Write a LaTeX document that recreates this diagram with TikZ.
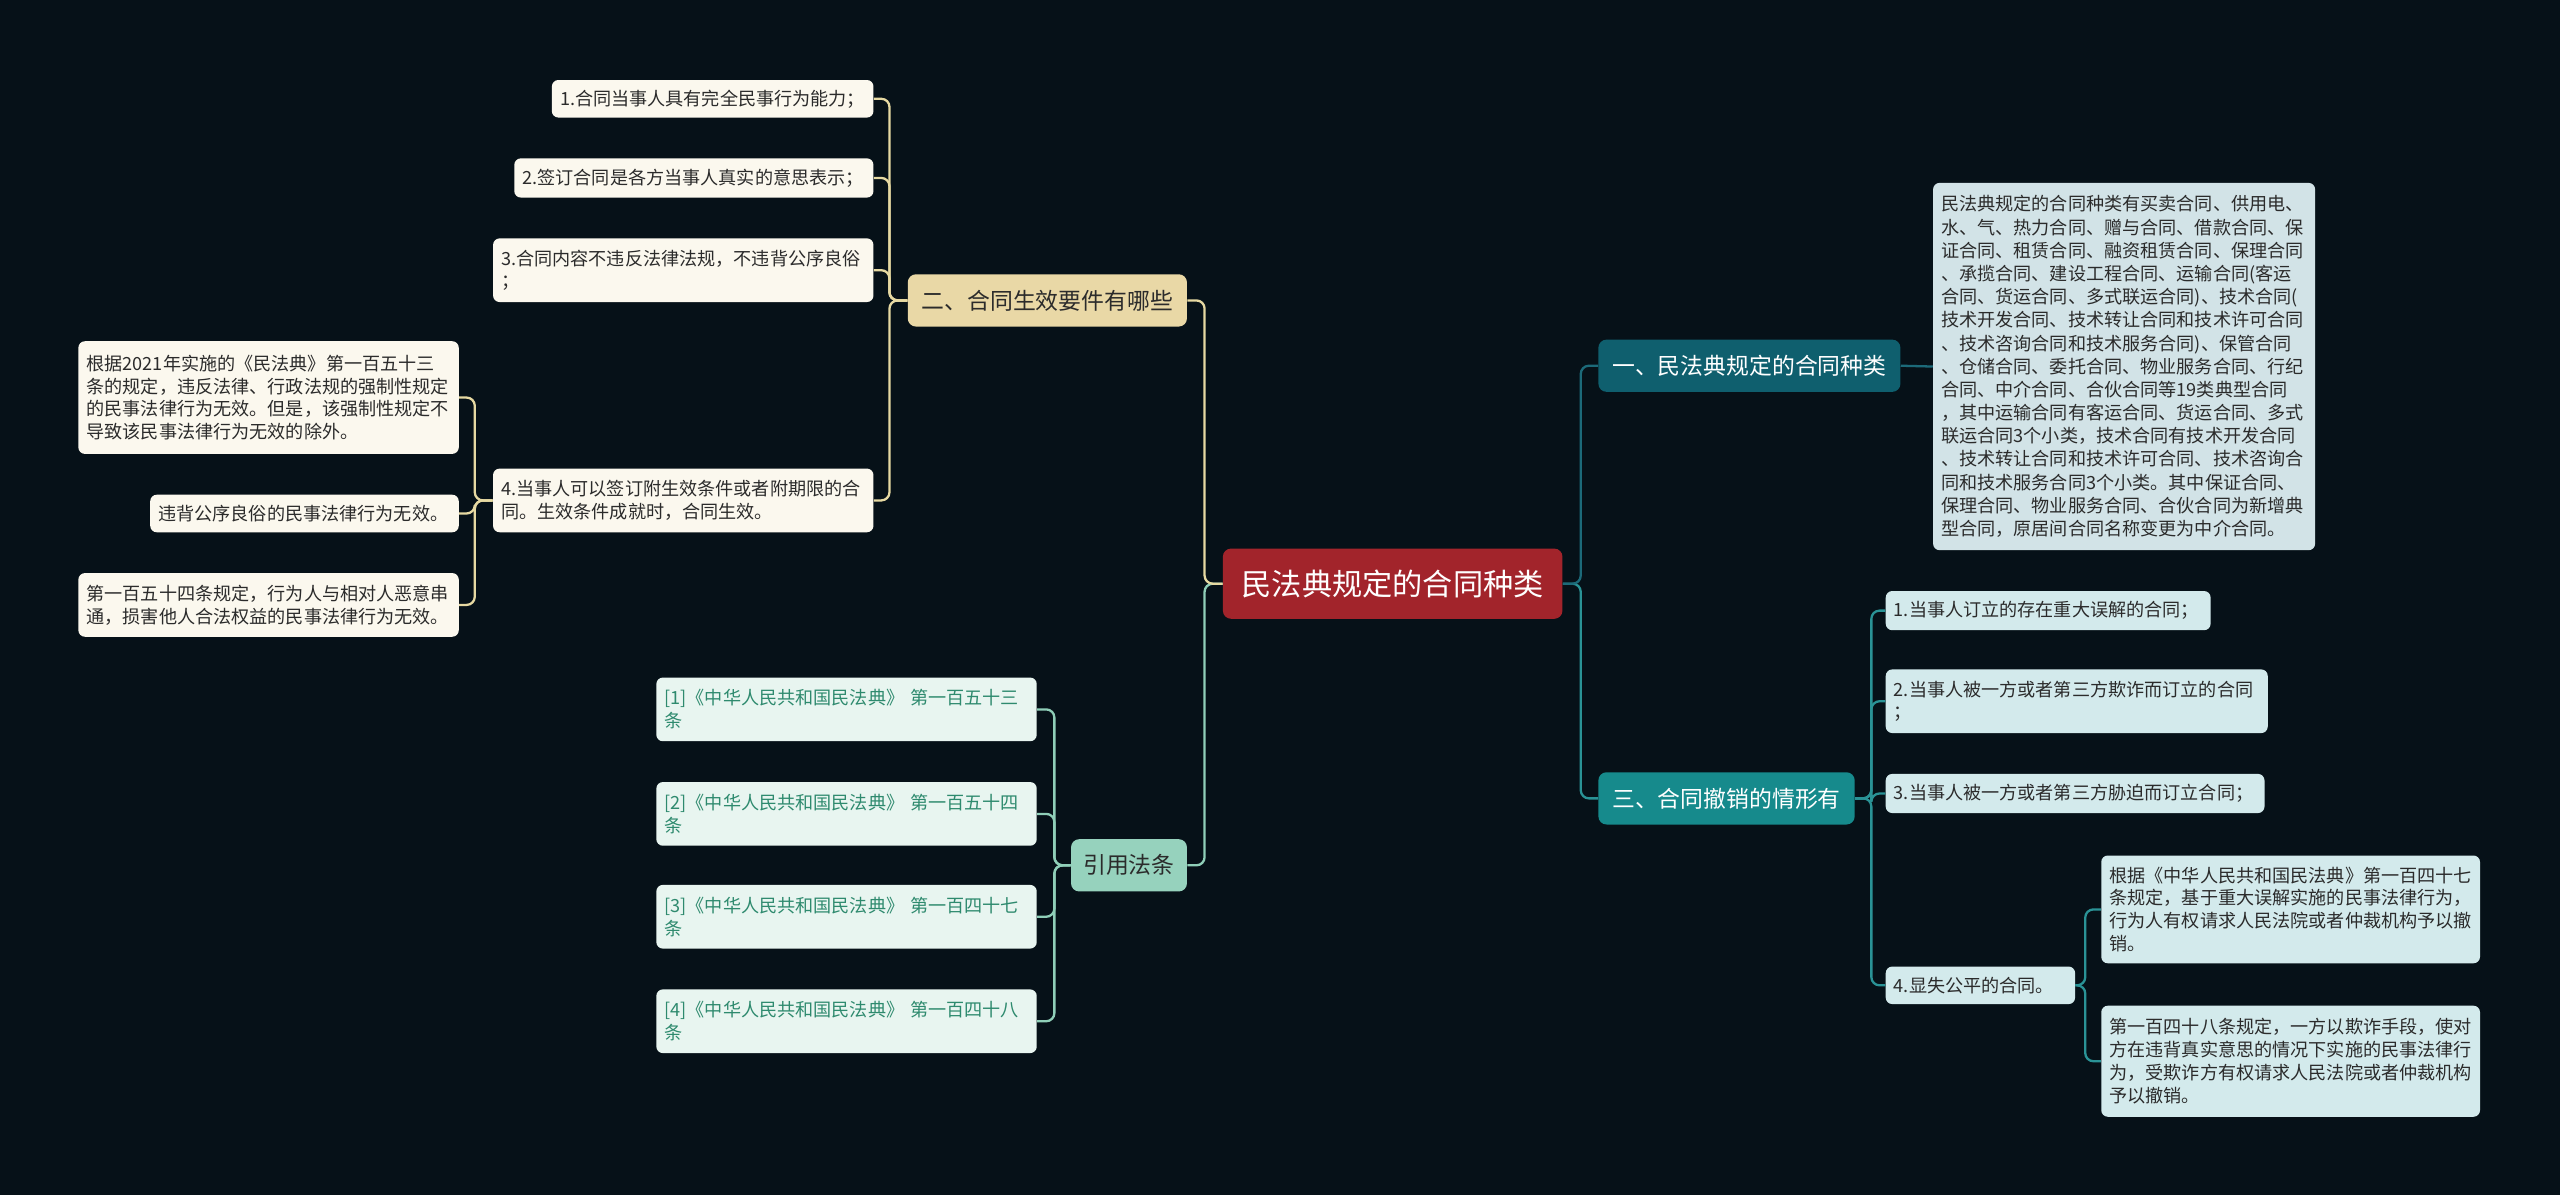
\documentclass[tikz,border=0pt]{standalone}
\usepackage{fontspec}
\setmainfont{Noto Sans CJK SC}
\definecolor{bg}{HTML}{061118}
\definecolor{rootfill}{HTML}{A2242B}
\definecolor{goldfill}{HTML}{E9D8A6}
\definecolor{goldline}{HTML}{E6D9A2}
\definecolor{cream}{HTML}{FBF8EE}
\definecolor{mintfill}{HTML}{96D2BD}
\definecolor{mintline}{HTML}{8FCFB8}
\definecolor{citefill}{HTML}{E8F5F0}
\definecolor{citetext}{HTML}{2E8A6E}
\definecolor{darkteal}{HTML}{0F5F6E}
\definecolor{darktealline}{HTML}{1C6A79}
\definecolor{bigfill}{HTML}{D2E3E7}
\definecolor{teal}{HTML}{168A8C}
\definecolor{tealline}{HTML}{2A9396}
\definecolor{cyanfill}{HTML}{D3EAEC}
\definecolor{txtdark}{HTML}{2B2B2B}
\begin{document}
\begin{tikzpicture}[x=1pt,y=-1pt,
  conn/.style={line width=1.4pt, rounded corners=5pt},
  leaf/.style={rounded corners=4pt, inner xsep=5pt, inner ysep=2pt,
    font=\fontsize{11.1}{14}\selectfont, align=left, text=txtdark},
  mainb/.style={rounded corners=5pt, inner sep=0pt,
    font=\fontsize{14}{17}\selectfont, align=center}]
\useasboundingbox[fill=bg] (0,0) rectangle (1568,732);

% root
\node[rounded corners=5pt, inner sep=0pt, fill=rootfill, text=white,
  font=\fontsize{18.5}{22}\selectfont, minimum width=208pt, minimum height=43pt]
  (root) at (853,357.5) {民法典规定的合同种类};

% level 1
\node[mainb, fill=goldfill, text=txtdark, minimum width=171pt, minimum height=32pt]
  (b1) at (641.5,184) {二、合同生效要件有哪些};
\node[mainb, fill=mintfill, text=txtdark, minimum width=71pt, minimum height=32pt]
  (b2) at (691.5,530) {引用法条};
\node[mainb, fill=darkteal, text=white, minimum width=185pt, minimum height=32pt]
  (b3) at (1071.5,224) {一、民法典规定的合同种类};
\node[mainb, fill=teal, text=white, minimum width=157pt, minimum height=32pt]
  (b4) at (1057.5,489) {三、合同撤销的情形有};

% b1 children
\node[leaf, fill=cream, text width=187pt, minimum height=23pt] (l1) at (436.5,60.5)
  {1.合同当事人具有完全民事行为能力；};
\node[leaf, fill=cream, text width=210pt, minimum height=24pt] (l2) at (425,109)
  {2.签订合同是各方当事人真实的意思表示；};
\node[leaf, fill=cream, text width=223pt, minimum height=39pt] (l3) at (418.5,165.5)
  {3.合同内容不违反法律法规，不违背公序良俗\\；};
\node[leaf, fill=cream, text width=223pt, minimum height=39pt] (l4) at (418.5,306.5)
  {4.当事人可以签订附生效条件或者附期限的合\\同。生效条件成就时，合同生效。};

% l4 children
\node[leaf, fill=cream, text width=223pt, minimum height=69pt] (c1) at (164.5,243.5)
  {根据2021年实施的《民法典》第一百五十三\\条的规定，违反法律、行政法规的强制性规定\\的民事法律行为无效。但是，该强制性规定不\\导致该民事法律行为无效的除外。};
\node[leaf, fill=cream, text width=179pt, minimum height=23pt] (c2) at (186.5,314.5)
  {违背公序良俗的民事法律行为无效。};
\node[leaf, fill=cream, text width=223pt, minimum height=39pt] (c3) at (164.5,370.5)
  {第一百五十四条规定，行为人与相对人恶意串\\通，损害他人合法权益的民事法律行为无效。};

% b2 children
\node[leaf, fill=citefill, text=citetext, text width=223pt, minimum height=39pt] (r1) at (518.5,434.5)
  {[1]《中华人民共和国民法典》 第一百五十三\\条};
\node[leaf, fill=citefill, text=citetext, text width=223pt, minimum height=39pt] (r2) at (518.5,498.5)
  {[2]《中华人民共和国民法典》 第一百五十四\\条};
\node[leaf, fill=citefill, text=citetext, text width=223pt, minimum height=39pt] (r3) at (518.5,561.5)
  {[3]《中华人民共和国民法典》 第一百四十七\\条};
\node[leaf, fill=citefill, text=citetext, text width=223pt, minimum height=39pt] (r4) at (518.5,625.5)
  {[4]《中华人民共和国民法典》 第一百四十八\\条};

% b3 child
\node[leaf, fill=bigfill, text width=224pt, minimum height=225pt,
  font=\fontsize{11.1}{14.2}\selectfont] (big) at (1301,224.5)
  {民法典规定的合同种类有买卖合同、供用电、\\水、气、热力合同、赠与合同、借款合同、保\\证合同、租赁合同、融资租赁合同、保理合同\\、承揽合同、建设工程合同、运输合同(客运\\合同、货运合同、多式联运合同)、技术合同(\\技术开发合同、技术转让合同和技术许可合同\\、技术咨询合同和技术服务合同)、保管合同\\、仓储合同、委托合同、物业服务合同、行纪\\合同、中介合同、合伙合同等19类典型合同\\，其中运输合同有客运合同、货运合同、多式\\联运合同3个小类，技术合同有技术开发合同\\、技术转让合同和技术许可合同、技术咨询合\\同和技术服务合同3个小类。其中保证合同、\\保理合同、物业服务合同、合伙合同为新增典\\型合同，原居间合同名称变更为中介合同。};

% b4 children
\node[leaf, fill=cyanfill, text width=189pt, minimum height=24pt] (d1) at (1254.5,374)
  {1.当事人订立的存在重大误解的合同；};
\node[leaf, fill=cyanfill, text width=224pt, minimum height=39pt] (d2) at (1272,429.5)
  {2.当事人被一方或者第三方欺诈而订立的合同\\；};
\node[leaf, fill=cyanfill, text width=222pt, minimum height=24pt] (d3) at (1271,486)
  {3.当事人被一方或者第三方胁迫而订立合同；};
\node[leaf, fill=cyanfill, text width=106pt, minimum height=23pt] (d4) at (1213,603.5)
  {4.显失公平的合同。};

% d4 children
\node[leaf, fill=cyanfill, text width=222pt, minimum height=66pt] (e1) at (1403,557)
  {根据《中华人民共和国民法典》第一百四十七\\条规定，基于重大误解实施的民事法律行为，\\行为人有权请求人民法院或者仲裁机构予以撤\\销。};
\node[leaf, fill=cyanfill, text width=222pt, minimum height=68pt] (e2) at (1403,650)
  {第一百四十八条规定，一方以欺诈手段，使对\\方在违背真实意思的情况下实施的民事法律行\\为，受欺诈方有权请求人民法院或者仲裁机构\\予以撤销。};

% connectors: root left
\draw[conn, draw=mintline] (root.west) -- ++(-11,0) |- (b2.east);
\draw[conn, draw=goldline] (root.west) -- ++(-11,0) |- (b1.east);
% root right
\draw[conn, draw=tealline] (root.east) -- ++(11,0) |- (b4.west);
\draw[conn, draw=darktealline] (root.east) -- ++(11,0) |- (b3.west);

% b1 -> leaves
\foreach \c in {l1,l2,l3,l4}
  \draw[conn, draw=goldline] (b1.west) -- ++(-11,0) |- (\c.east);
% l4 -> children
\foreach \c in {c1,c2,c3}
  \draw[conn, draw=goldline] (l4.west) -- ++(-11,0) |- (\c.east);
% b2 -> citations
\foreach \c in {r1,r2,r3,r4}
  \draw[conn, draw=mintline] (b2.west) -- ++(-10,0) |- (\c.east);
% b3 -> big
\draw[conn, draw=darktealline] (b3.east) -- (big.west);
% b4 -> leaves
\foreach \c in {d1,d2,d3,d4}
  \draw[conn, draw=tealline] (b4.east) -- ++(10,0) |- (\c.west);
% d4 -> children
\foreach \c in {e1,e2}
  \draw[conn, draw=tealline] (d4.east) -- ++(6,0) |- (\c.west);
\end{tikzpicture}
\end{document}
